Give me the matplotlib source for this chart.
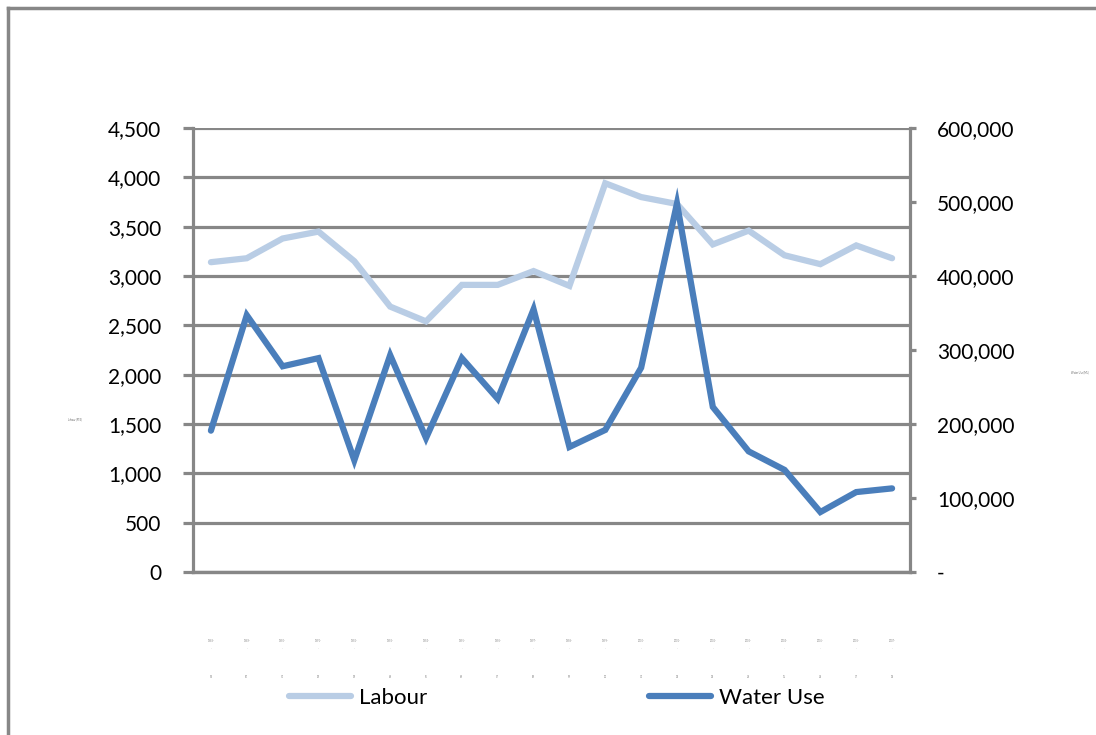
import numpy as np
import matplotlib.pyplot as plt
from matplotlib.ticker import FuncFormatter

plt.rcParams['font.family'] = ['Lato', 'DejaVu Sans']

years = ['1988-', '1989-', '1990-', '1991-', '1992-', '1993-', '1994-', '1995-', '1996-', '1997-',
         '1998-', '1999-', '2000-', '2001-', '2002-', '2003-', '2004-', '2005-', '2006-', '2007-']
year_ends = ['89', '90', '91', '92', '93', '94', '95', '96', '97', '98',
             '99', '00', '01', '02', '03', '04', '05', '06', '07', '08']
labour = [3140, 3180, 3380, 3450, 3150, 2690, 2540, 2910, 2910, 3050,
          2900, 3940, 3800, 3730, 3320, 3460, 3210, 3120, 3310, 3180]
water_use = [191000, 347000, 278000, 289000, 151000, 293000, 181000, 289000, 234000, 355000,
             169000, 192000, 276000, 498000, 223000, 163000, 138000, 81000, 108000, 113000]

c_lab = '#B9CDE5'
c_wat = '#4A7EBB'
grey = '#878787'

fig = plt.figure(figsize=(10.96, 7.35), dpi=100)
# outer chart frame (cropped on right/bottom)
fig.add_artist(plt.Line2D([8/1096, 8/1096], [0, 1 - 8/735], color=grey, lw=2.5))
fig.add_artist(plt.Line2D([8/1096, 1], [1 - 8/735, 1 - 8/735], color=grey, lw=2.5))

ax = fig.add_axes([193/1096, 1 - 572/735, 717/1096, 444/735])
ax2 = ax.twinx()

x = np.arange(len(years))
l1, = ax.plot(x, labour, color=c_lab, lw=4.5, solid_capstyle='round', solid_joinstyle='miter', zorder=3)
l2, = ax2.plot(x, water_use, color=c_wat, lw=4.5, solid_capstyle='round', solid_joinstyle='miter', zorder=3)

ax.set_xlim(-0.5, len(years) - 0.5)
ax.set_ylim(0, 4500)
ax2.set_ylim(0, 600000)
ax.set_yticks(np.arange(0, 4501, 500))
ax2.set_yticks(np.arange(0, 600001, 100000))
ax.yaxis.set_major_formatter(FuncFormatter(lambda v, p: f'{v:,.0f}'))
ax2.yaxis.set_major_formatter(FuncFormatter(lambda v, p: '-' if v == 0 else f'{v:,.0f}'))
ax.grid(axis='y', color=grey, lw=2.3)
ax.set_axisbelow(True)

for a in (ax, ax2):
    a.spines['top'].set_visible(False)
    for s in ('left', 'right', 'bottom'):
        a.spines[s].set_color(grey)
        a.spines[s].set_linewidth(2.3)
ax2.spines['left'].set_visible(False)
ax.spines['right'].set_visible(False)
ax.tick_params(axis='y', colors=grey, length=7, width=2.3, labelsize=15, labelcolor='black', pad=16)
ax2.tick_params(axis='y', colors=grey, length=4.5, width=2.3, labelsize=15, labelcolor='black', pad=15)

# tiny category labels in two rows under the axis
ax.set_xticks(x)
ax.set_xticklabels([])
ax.tick_params(axis='x', length=0)
for xi, y0, y1 in zip(x, years, year_ends):
    ax.text(xi, -0.155, y0, transform=ax.get_xaxis_transform(), fontsize=1.8, color='#888888',
            ha='center', va='center')
    ax.text(xi, -0.171, '.', transform=ax.get_xaxis_transform(), fontsize=1.8, color='#888888',
            ha='center', va='center')
    ax.text(xi, -0.236, y1, transform=ax.get_xaxis_transform(), fontsize=1.8, color='#888888',
            ha='center', va='center')

# tiny axis titles
fig.text(75/1096, 1 - 419/735, 'Labour (FTE)', fontsize=1.8, color='#666666', ha='center', va='center')
fig.text(1080/1096, 1 - 372/735, 'Water Use (ML)', fontsize=1.8, color='#666666', ha='center', va='center')

fig.legend([l1, l2], ['Labour', 'Water Use'], loc='center', bbox_to_anchor=(0.508, 1 - 698/735),
           ncol=2, frameon=False, fontsize=16, handlelength=2.8, columnspacing=10, handletextpad=0.35)

fig.savefig('out.png', dpi=100)
